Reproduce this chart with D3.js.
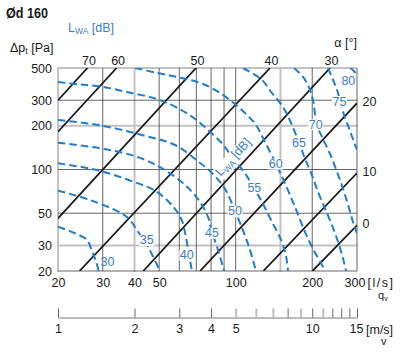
<!DOCTYPE html>
<html><head><meta charset="utf-8">
<script src="https://cdn.jsdelivr.net/npm/d3@7"></script>
<style>
body{margin:0;background:#fff}
svg{display:block;font-family:"Liberation Sans",Arial,Helvetica,sans-serif}
</style></head><body>
<svg id="c" width="400" height="355"></svg>
<script>
// ---------- data ----------
const qTicks=[20,30,40,50,100,200,300];
const pTicks=[20,30,50,100,200,300,500];
const qGrid=[20,30,40,50,60,70,80,90,100,150,200,300];
const qGridLight=[20,40,150];
const pGrid=[20,30,50,100,200,300,500];
const pGridLight=[30,200,500];
const vTicks=[1,2,3,4,5,6,7,8,9,10,11,12,13,14,15];
const vTicksLight=[5,6,7,9,11];
const vLabels=[1,2,3,4,5,10,15];

// damper blade angle lines (alpha), each from [q,dp] to [q,dp]
const damperAngles=[70,60,50,40,30,20,10,0];
const damperLines=[
 [[20,300],[26.1,500]],
 [[20,182],[34.0,500]],
 [[20,46.1],[69.8,500]],
 [[24.3,20],[136.5,500]],
 [[43.3,20],[235,500]],
 [[72.4,20],[300,286]],
 [[128.4,20],[300,94.6]],
 [[200.5,20],[300,41.3]]
];

// sound power level contours L_WA [dB]
const soundLevels=[30,35,40,45,50,55,60,65,70,75,80];
const soundCurves=[
 [[20,40.4],[23.3,36.4],[26.0,32.7],[27.3,27.0],[28.2,23.4],[28.9,20]],
 [[20,71.5],[26.7,61.7],[35.6,49.9],[38.4,44.9],[41.3,37.1],[44.4,31.2],[47.3,25.1],[50.4,20]],
 [[20,110.3],[28.4,99.2],[39.6,82.4],[48.9,70.3],[56.8,55.4],[61.3,44.9],[63.8,33.8],[65.5,25.8],[67.3,20]],
 [[20,152.9],[29.3,140],[40.8,122.5],[51.8,100.8],[63.2,78.2],[72.4,59.7],[77.8,47.1],[80.7,37.1],[85.2,27.9],[90,20]],
 [[20,219.2],[28.8,202.5],[42.7,172.9],[57.7,147.5],[71.3,113.2],[80.7,94.6],[90.8,73.4],[99.4,51.8],[105.9,39.6],[112.8,29.3],[120.2,20]],
 [[20,400.6],[24.0,386],[29.8,371.9],[37.7,340.3],[48.2,308.3],[57.7,270.8],[67.3,231],[77.8,187.1],[88.3,151.5],[96.7,122.5],[107.9,96.1],[118.1,74.6],[126.9,59.7],[137.7,44.9],[150.8,32.7],[157.7,25.4],[160.6,20]],
 [[40.2,500],[48.2,465.8],[56.2,440.6],[64.9,416.9],[74.4,388.2],[86.8,336.4],[100.3,278.2],[111.8,233.6],[120.2,202.5],[129.2,159.7],[144.1,109.1],[153.5,86.0],[163.6,66.7],[174.2,51.0],[187.4,37.1],[201.4,28.4],[218.6,22.0],[224.6,20]],
 [[106.9,500],[126.9,413.4],[137.7,341.8],[153.5,269.6],[165.1,209],[177.5,152.9],[187.4,118.7],[199.6,91.2],[210.8,70.0],[224.6,53.7],[239.3,41.3],[252.8,31.7],[264.5,24.3],[271.6,20]],
 [[169.6,500],[184.0,433.7],[196.0,353],[202.4,287.1],[208.0,205.8],[220.6,162.2],[235.0,127.9],[250.5,96.1],[264.5,73.4],[276.7,57.0],[289.4,43.5],[300,36.5]],
 [[230.8,500],[241.5,413.4],[250.5,353],[257.4,296.5],[266.8,237.4],[277.9,196.2],[288.2,164.8],[300,136.2]],
 [[281.7,500],[292,477],[300,440.6]]
];
// where each level label sits, in [q,dp]
const soundLabelAt=[[31.3,23.1],[44.7,32.7],[64.2,25.8],[80.6,36.7],[99.4,51.8],[118.4,74.6],[143.7,109.7],[177.5,152.9],[206.4,204.8],[255.8,295],[277.4,411.6]];
const lwaRotLabelAt=[97.6,122];

// ---------- drawing ----------
const x=d3.scaleLog().domain([20,300]).range([58,357]);
const y=d3.scaleLog().domain([20,500]).range([271,68]);
const v=d3.scaleLog().domain([1,15]).range([58,357]);
const svg=d3.select("#c");
const BLUE="#1f7dc9", LBLUE="#3a7ec6", INK="#1a1a1a";

svg.append("defs").append("clipPath").attr("id","plot")
 .append("rect").attr("x",x(20)).attr("y",y(500)).attr("width",x(300)-x(20)).attr("height",y(20)-y(500));

// grid (light first, dark on top)
const grid=svg.append("g");
const vLight=qGrid.filter(d=>qGridLight.includes(d)), vDark=qGrid.filter(d=>!qGridLight.includes(d));
const hLight=pGrid.filter(d=>pGridLight.includes(d)), hDark=pGrid.filter(d=>!pGridLight.includes(d));
function vlines(data,col,w){grid.append("g").selectAll("line").data(data).join("line")
 .attr("x1",d=>x(d)).attr("x2",d=>x(d)).attr("y1",y(20)+(w>1?1:0)).attr("y2",y(500)-(w>1?1:0))
 .attr("stroke",col).attr("stroke-width",w);}
function hlines(data,col,w){grid.append("g").selectAll("line").data(data).join("line")
 .attr("y1",d=>y(d)).attr("y2",d=>y(d)).attr("x1",x(20)).attr("x2",x(300))
 .attr("stroke",col).attr("stroke-width",w);}
vlines(vLight,"#c2c2c2",2); hlines(hLight,"#c2c2c2",2);
vlines(vDark,"#555",0.9); hlines(hDark,"#555",0.9);

// damper lines
const dl=svg.append("g").attr("clip-path","url(#plot)");
dl.selectAll("line").data(damperLines).join("line")
 .attr("x1",d=>x(d[0][0])).attr("y1",d=>y(d[0][1]))
 .attr("x2",d=>x(d[1][0])).attr("y2",d=>y(d[1][1]))
 .attr("stroke",INK).attr("stroke-width",1.8);

// sound curves
const line=d3.line().x(d=>x(d[0])).y(d=>y(d[1])).curve(d3.curveCatmullRom.alpha(0.5));
svg.append("g").attr("clip-path","url(#plot)").selectAll("path").data(soundCurves).join("path")
 .attr("d",line).attr("fill","none").attr("stroke",BLUE).attr("stroke-width",2)
 .attr("stroke-dasharray","7.5,4");

// level labels with white backing
const labG=svg.append("g");
soundLevels.forEach((lv,i)=>{
  const p=soundLabelAt[i];
  const gg=labG.append("g").attr("transform",`translate(${x(p[0])},${y(p[1])})`);
  const t=gg.append("text").attr("text-anchor","middle").attr("dy","0.36em")
    .attr("font-size",12.5).attr("fill",LBLUE).text(lv);
  if(lv!==30 && lv!==80){
    const b=t.node().getBBox();
    gg.insert("rect","text").attr("x",b.x-0.5).attr("y",b.y+1.5).attr("width",b.width+1).attr("height",b.height-3).attr("fill","#fff");
  }
});

// rotated LWA [dB] label
{
  const gg=svg.append("g").attr("transform",`translate(${x(lwaRotLabelAt[0])},${y(lwaRotLabelAt[1])}) rotate(-47.5)`);
  const t=gg.append("text").attr("text-anchor","middle").attr("y",4).attr("font-size",12.5).attr("fill",LBLUE);
  t.append("tspan").text("L");
  t.append("tspan").attr("font-size",8.5).attr("dy",3).text("WA");
  t.append("tspan").attr("dy",-3).text(" [dB]");
  const b=t.node().getBBox();
  gg.insert("rect","text").attr("x",b.x).attr("y",b.y+1).attr("width",b.width).attr("height",b.height-1).attr("fill","#fff");
}

// damper angle labels
damperLines.forEach((d,i)=>{
  const e=d[1];
  if(e[1]>=500){
    svg.append("text").attr("x",x(e[0])+1.5).attr("y",64.5).attr("text-anchor","middle")
      .attr("font-size",12.5).attr("fill",INK).text(damperAngles[i]);
  } else {
    svg.append("text").attr("x",x(e[0])+5.5).attr("y",y(e[1])-2).attr("dy","0.36em")
      .attr("font-size",12.5).attr("fill",INK).text(damperAngles[i]);
  }
});

// axes
const ax=svg.append("g").attr("transform",`translate(0,${y(20)})`)
 .call(d3.axisBottom(x).tickValues(qTicks).tickFormat(d3.format("d")).tickSize(0).tickPadding(7));
const ay=svg.append("g").attr("transform",`translate(${x(20)},0)`)
 .call(d3.axisLeft(y).tickValues(pTicks).tickFormat(d3.format("d")).tickSize(0).tickPadding(6));
[ax,ay].forEach(a=>{a.select(".domain").remove();
 a.selectAll("text").attr("font-size",12.5).attr("fill",INK).attr("font-family",null);});
ax.selectAll(".tick").filter(d=>d===300).select("text").attr("dx",-2.5);

// velocity axis
const av=svg.append("g").attr("transform","translate(0,317.5)")
 .call(d3.axisBottom(v).tickValues(vTicks).tickSizeInner(-9).tickSizeOuter(0).tickPadding(7)
   .tickFormat(d=>vLabels.includes(d)?d:""));
av.select(".domain").attr("stroke","#777").attr("stroke-width",1);
av.selectAll(".tick line").attr("stroke",d=>vTicksLight.includes(d)?"#bdbdbd":"#666")
  .attr("stroke-width",d=>vTicksLight.includes(d)?2:1);
av.selectAll("text").attr("font-size",12.5).attr("fill",INK).attr("font-family",null);
av.selectAll(".tick").filter(d=>d===15).select("text").attr("dx",-1);

// titles / units
svg.append("text").attr("x",6).attr("y",17.5).attr("font-size",15.5).attr("font-weight","bold")
 .attr("fill",INK).attr("textLength",42).attr("lengthAdjust","spacingAndGlyphs").text("Ød 160");
{
 const t=svg.append("text").attr("x",68).attr("y",31.5).attr("font-size",12.5).attr("fill",LBLUE);
 t.append("tspan").text("L");
 t.append("tspan").attr("font-size",8.5).attr("dy",2.5).text("WA");
 t.append("tspan").attr("dy",-2.5).text(" [dB]");
}
{
 const t=svg.append("text").attr("x",10).attr("y",51.5).attr("font-size",12.5).attr("fill",INK);
 t.append("tspan").text("Δp");
 t.append("tspan").attr("font-size",8.5).attr("dy",2.5).text("t");
 t.append("tspan").attr("dy",-2.5).text(" [Pa]");
}
svg.append("text").attr("x",357).attr("y",46.5).attr("text-anchor","end").attr("font-size",12.5).attr("fill",INK).text("α [°]");
svg.append("text").attr("x",367.5).attr("y",287).attr("font-size",12.5).attr("fill",INK)
 .attr("textLength",25.5).attr("lengthAdjust","spacing").text("[l/s]");
{
 const t=svg.append("text").attr("x",378).attr("y",299).attr("font-size",11).attr("fill",INK);
 t.append("tspan").text("q");
 t.append("tspan").attr("font-size",7).attr("dy",1.5).text("v");
}
svg.append("text").attr("x",366).attr("y",333.5).attr("font-size",12.5).attr("fill",INK).text("[m/s]");
svg.append("text").attr("x",381).attr("y",345).attr("font-size",11).attr("fill",INK).text("v");
</script></body></html>
